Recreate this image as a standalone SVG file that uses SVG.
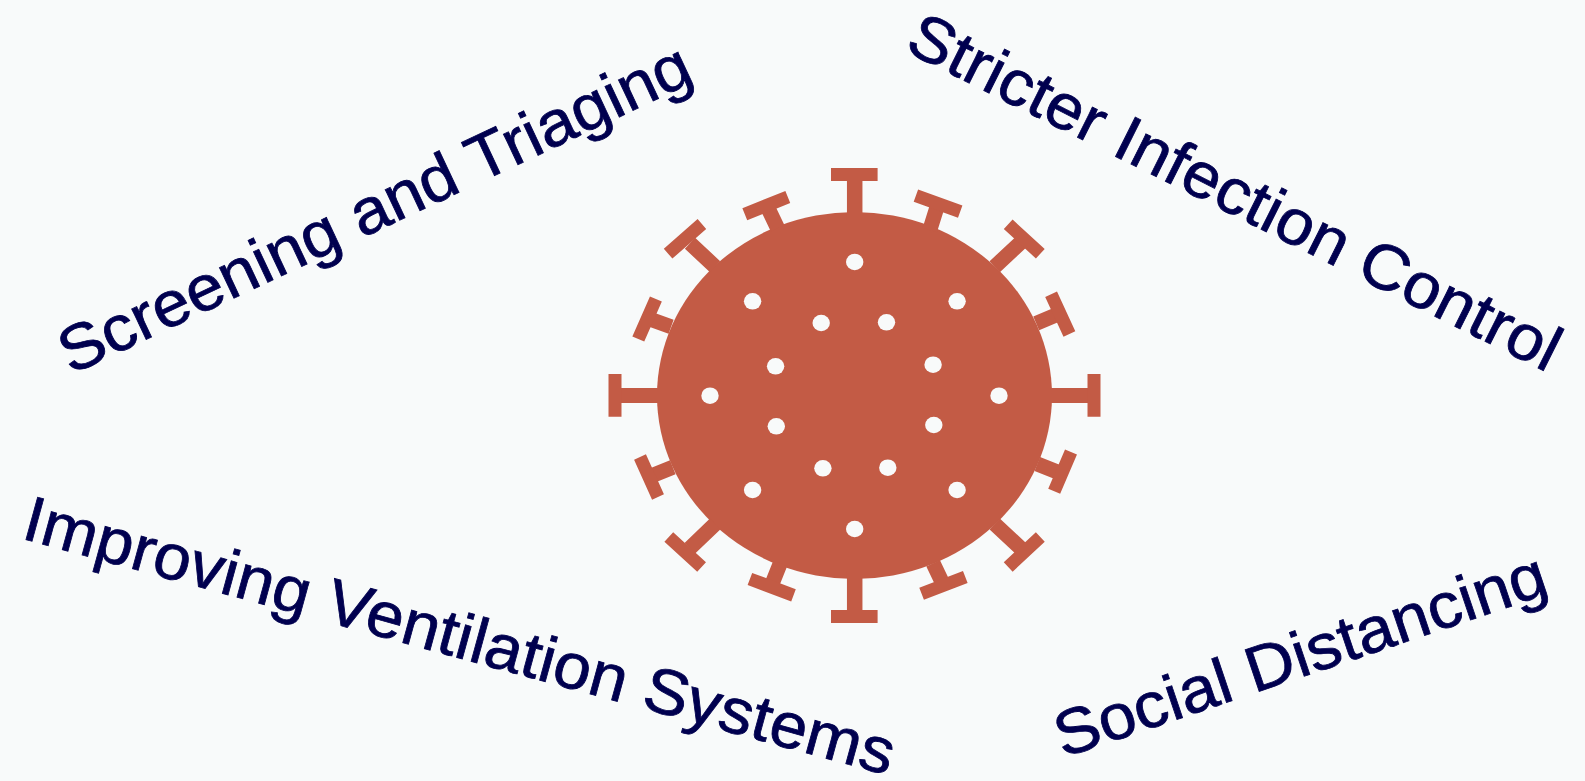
<svg xmlns="http://www.w3.org/2000/svg" width="1585" height="781" viewBox="0 0 1585 781">
<style>
.t{font-family:"Liberation Sans",Arial,sans-serif;font-size:64px;fill:#00004f;stroke:#00004f;stroke-width:.8px}
.stem{stroke:#c35b45;stroke-width:15;fill:none}
.cap{stroke:#c35b45;stroke-width:13;fill:none}
.d{fill:#f8fafa}
</style>
<rect width="1585" height="781" fill="#f8fafa"/>
<g id="virus">
<ellipse cx="854.500" cy="395.500" rx="197.500" ry="183.500" fill="#c35b45"/>
<path class="stem" style="stroke-width:15.500" d="M854.700 220V174M854.700 571V617"/>
<path class="stem" d="M662 395.500H614M1047 395.500H1095"/>
<path class="cap" d="M831 174.500H877.600M831 616.500H877.600M615 374V416.700M1094 374V416.700"/>
<path class="stem" d="M994.700 266.700L1024.400 239M715.100 266.700L690 243.300M715.100 524L689.700 548.300M994.700 524L1024.400 551.700"/>
<path class="cap" d="M1008.200 224.300L1040.300 253.700M668.100 253.700L701.900 224M668.800 537L701.600 567M1040.300 537L1008.200 567"/>
<path class="stem" d="M929.800 230L938.200 203.300M777.600 228.300L766.500 205M1036.200 323.300L1059.900 313.300M671.100 326.700L647.500 318.300M672.800 467.300L649.200 476.700M1037.300 464L1060 473M780.300 563.300L770.900 586.700M933.100 563.300L944.300 586.700"/>
<path class="cap" d="M915.900 195.700L960.200 211.700M744.800 214.300L787.800 197M1051.100 294.300L1069.400 334M655.900 299L638.300 339M640 457L658 497M1071 452L1054.200 491.300M749.900 579L793.500 595.300M921.600 593.700L965.300 577"/>
<g class="d">
<ellipse cx="854.700" cy="262" rx="8.700" ry="8.300"/><ellipse cx="752.600" cy="301.300" rx="8.700" ry="8.300"/><ellipse cx="957.100" cy="301.300" rx="8.700" ry="8.300"/><ellipse cx="821.200" cy="323" rx="8.700" ry="8.300"/><ellipse cx="886.500" cy="322.300" rx="8.700" ry="8.300"/><ellipse cx="775.600" cy="366.300" rx="8.700" ry="8.300"/><ellipse cx="933.100" cy="364.700" rx="8.700" ry="8.300"/><ellipse cx="710" cy="395.700" rx="8.700" ry="8.300"/><ellipse cx="999" cy="395.700" rx="8.700" ry="8.300"/><ellipse cx="776.300" cy="426.300" rx="8.700" ry="8.300"/><ellipse cx="933.800" cy="425" rx="8.700" ry="8.300"/><ellipse cx="822.900" cy="468.300" rx="8.700" ry="8.300"/><ellipse cx="887.800" cy="467.700" rx="8.700" ry="8.300"/><ellipse cx="752.600" cy="490" rx="8.700" ry="8.300"/><ellipse cx="957.100" cy="490" rx="8.700" ry="8.300"/><ellipse cx="854.700" cy="529" rx="8.700" ry="8.300"/>
</g>
</g>
<g id="label-screening"><text class="t" transform="translate(71 375) rotate(-25.200) scale(1.05 1)">Screening and Triaging</text></g>
<g id="label-stricter"><text class="t" transform="translate(903 50) rotate(26.600) scale(1.05 1)">Stricter Infection Control</text></g>
<g id="label-ventilation"><text class="t" transform="translate(20 538) rotate(15.300) scale(1.05 1)">Improving Ventilation Systems</text></g>
<g id="label-social"><text class="t" transform="translate(1063 758) rotate(-18.700) scale(1.05 1)">Social Distancing</text></g>
</svg>
